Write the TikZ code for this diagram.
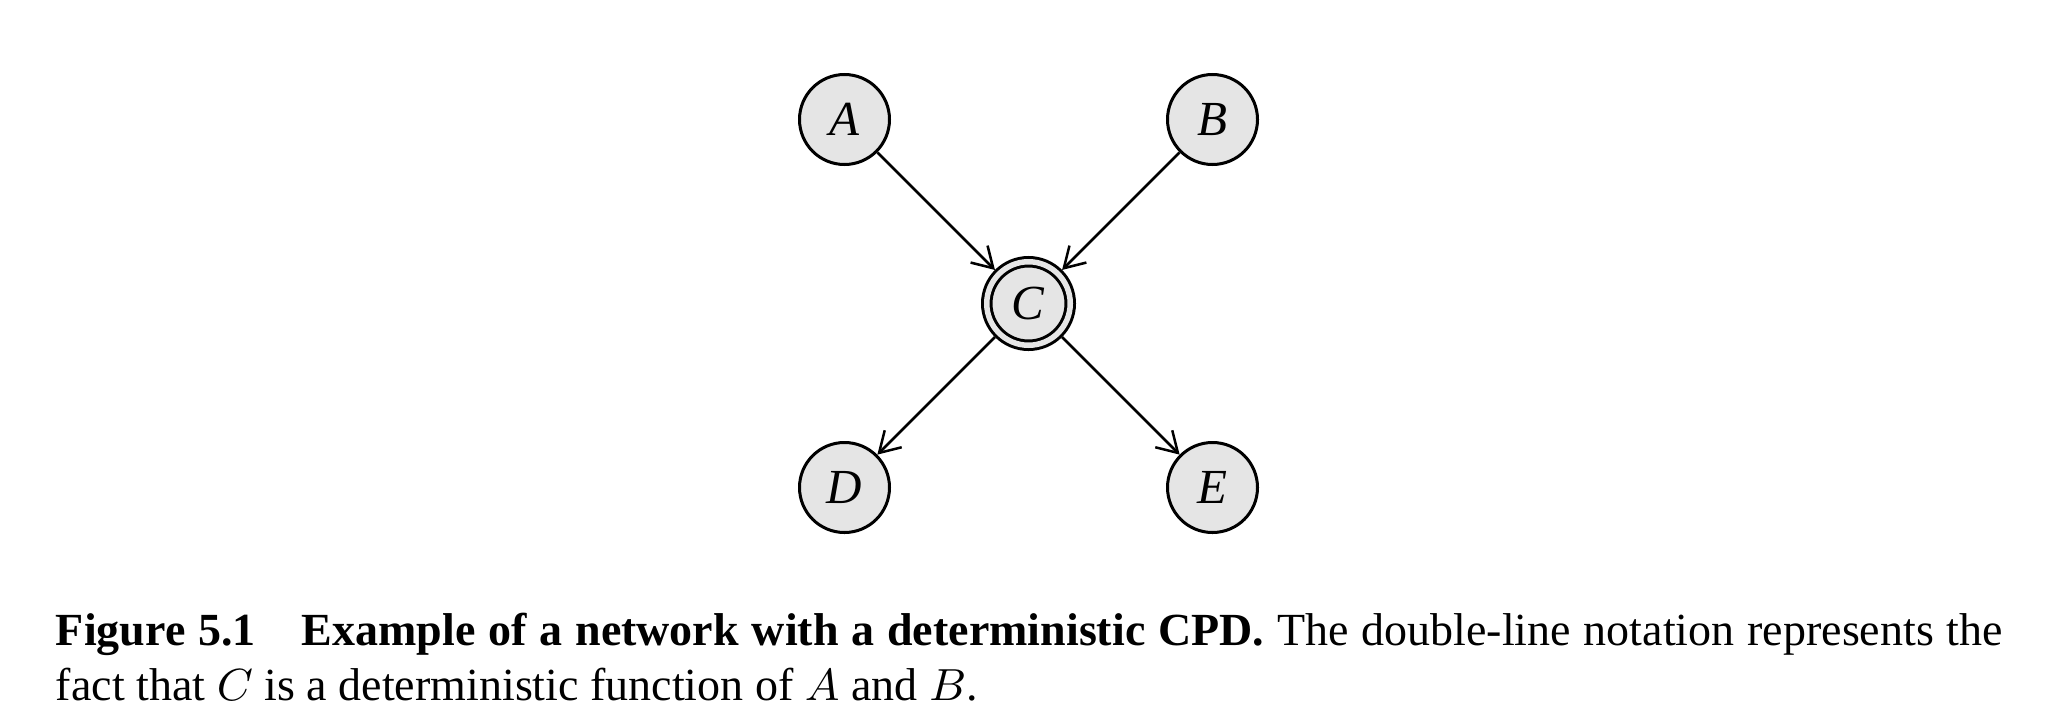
\documentclass[tikz,border=0pt]{standalone}
\usepackage{fontspec}
\setmainfont{Liberation Serif}
\usetikzlibrary{arrows.meta}
\usetikzlibrary{automata, positioning}
\tikzset{
every state/.style = {fill=black!10, draw=black, line width=0.6pt,
                      minimum size=18pt, inner sep=0pt,
                      font=\fontsize{9.8}{11}\selectfont},
determ/.style = {double=black!10, double distance=1.1pt,
                 minimum size=16.7pt, outer sep=1.15pt},
cpdarrow/.style = {->, line width=0.5pt},
caption/.style = {text width=389.4pt, align=justify, inner sep=0pt,
                  font=\fontsize{9.2}{11}\selectfont}
}

\begin{document}
\begin{tikzpicture}[>={Straight Barb[length=4pt,width=4.8pt]}, on grid]
        \useasboundingbox (-205.7pt,-81.3pt) rectangle (207.9pt,60.7pt);
        
        \node[state, determ] (C) {\textit{C}};
        \node[state, above left=36.8pt and 36.8pt of C] (A) {\textit{A}};
        \node[state, above right=36.8pt and 36.8pt of C] (B) {\textit{B}};
        \node[state, below left=36.8pt and 36.8pt of C] (D) {\textit{D}};
        \node[state, below right=36.8pt and 36.8pt of C] (E) {\textit{E}};
        
        \path
        (A) edge[cpdarrow] (C)
        (B) edge[cpdarrow] (C)
        (C) edge[cpdarrow] (D)
        (C) edge[cpdarrow] (E);
        
        \node[caption, anchor=base west] (cap) at (-194.7pt,-68.3pt)
        {\textbf{Figure 5.1\quad Example of a network with a deterministic CPD.}
        The double-line notation represents the\linebreak{} fact that $C$ is a
        deterministic function of $A$ and $B$.};
        \end{tikzpicture}
\end{document}
